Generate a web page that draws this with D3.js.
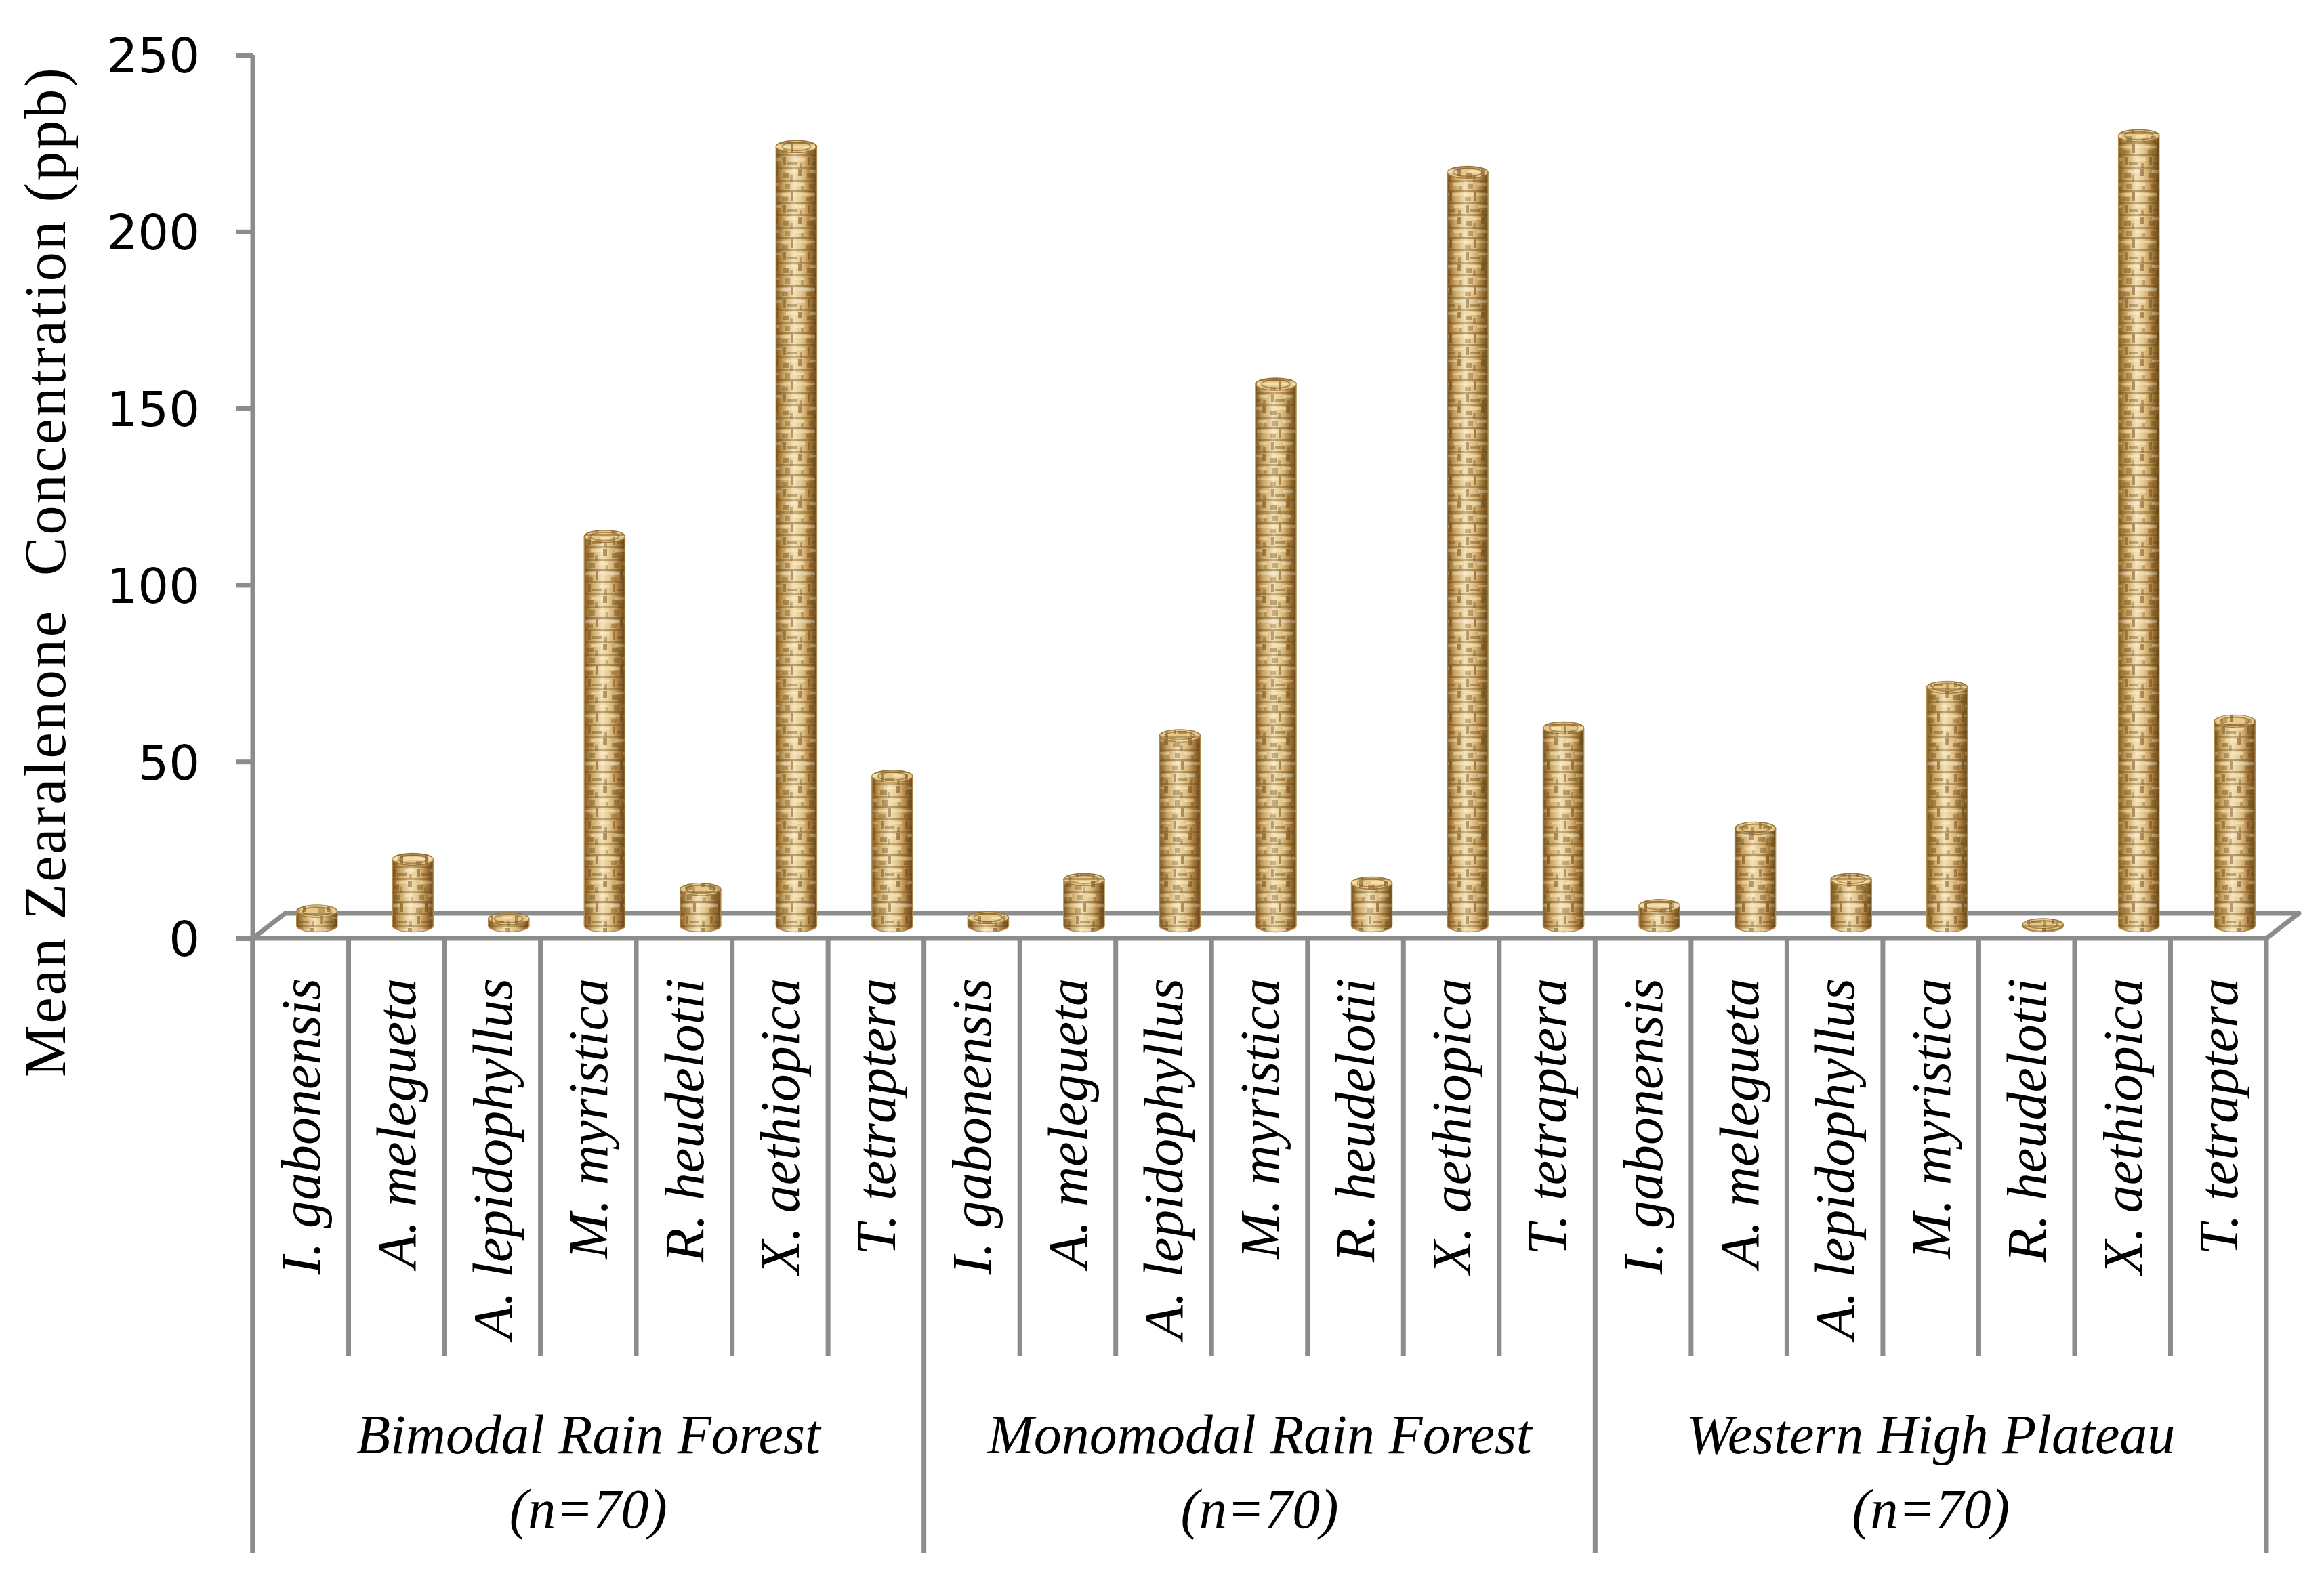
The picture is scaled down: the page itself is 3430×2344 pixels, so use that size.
<!DOCTYPE html>
<html lang="en">
<head>
    <meta charset="UTF-8">
    <title>Mean Zearalenone Concentration</title>
    <script src="https://d3js.org/d3.v7.min.js"></script>
    <style>
        body { margin: 0; background: #fff; }
        svg { display: block; }
    </style>
</head>
<body>
    <script>
        // species on the x axis (repeated for each region)
        var species = ["I. gabonensis", "A. melegueta", "A. lepidophyllus", "M. myristica",
                       "R. heudelotii", "X. aethiopica", "T. tetraptera"];
        var regions = ["Bimodal Rain Forest", "Monomodal Rain Forest", "Western High Plateau"];
        var regionN = "(n=70)";

        // mean ZEN (ppb)
        var bimodal   = [4.1, 18.8, 2.0, 110.2, 10.3, 220.5, 42.3];
        var monomodal = [2.3, 13.1, 53.8, 153.3, 12.1, 213.2, 56.0];
        var plateau   = [5.7, 27.6, 13.1, 67.5, 0.3, 223.6, 57.9];

        var yTicks = [0, 50, 100, 150, 200, 250];

        (function(){
            var W = 3430, H = 2344;
            var left = 373, right = 3345, floorY = 1385, topY = 81;
            var depthX = 48, depthY = -37;           // floor depth (oblique 3D)
            var catBottom = 2001, groupBottom = 2292;
            var grey = "#8c8c8c";

            var series = [bimodal, monomodal, plateau];
            var rows = [];
            regions.forEach(function(r, gi){
                species.forEach(function(s, si){
                    rows.push({ key: gi + "|" + s, region: r, name: s, value: series[gi][si], g: gi, i: si });
                });
            });

            var svg = d3.select("body").append("svg")
                .attr("width", W)
                .attr("height", H);

            var x = d3.scaleBand()
                .domain(rows.map(function(d){ return d.key; }))
                .range([left, right])
                .padding(0);

            var y = d3.scaleLinear()
                .domain([0, 250])
                .range([floorY, topY]);

            // ---- textures / shading for the cylinders
            var defs = svg.append("defs");

            var body = defs.append("linearGradient").attr("id", "cylBody")
                .attr("x1", "0%").attr("x2", "100%").attr("y1", "0%").attr("y2", "0%");
            [["0%", "#9c7433"], ["14%", "#cfa55e"], ["42%", "#f3ddaa"], ["60%", "#ecd199"],
             ["84%", "#c49550"], ["100%", "#8a6226"]].forEach(function(s){
                body.append("stop").attr("offset", s[0]).attr("stop-color", s[1]);
            });

            var shade = defs.append("linearGradient").attr("id", "cylShade")
                .attr("x1", "0%").attr("x2", "100%").attr("y1", "0%").attr("y2", "0%");
            [["0%", "#6b4a18", 0.55], ["20%", "#6b4a18", 0.1], ["45%", "#ffffff", 0.15],
             ["70%", "#6b4a18", 0.05], ["100%", "#5a3c10", 0.6]].forEach(function(s){
                shade.append("stop").attr("offset", s[0]).attr("stop-color", s[1]).attr("stop-opacity", s[2]);
            });

            // woven mat look (irregular dark blotches + light strands)
            var mat = defs.append("pattern").attr("id", "mat")
                .attr("patternUnits", "userSpaceOnUse")
                .attr("width", 36).attr("height", 70);
            var dark = "#6e4a17", light = "#fbeecb";
            [
                [0, 0, 36, 3, dark, 0.5],
                [0, 5, 15, 4, light, 0.65],
                [19, 5, 17, 4, light, 0.5],
                [15, 3, 4, 13, dark, 0.55],
                [2, 11, 9, 6, dark, 0.35],
                [0, 18, 36, 3, dark, 0.45],
                [4, 22, 4, 12, dark, 0.5],
                [22, 23, 14, 4, light, 0.6],
                [10, 29, 14, 4, dark, 0.45],
                [28, 30, 4, 8, dark, 0.4],
                [0, 36, 36, 3, dark, 0.4],
                [8, 41, 20, 4, light, 0.6],
                [26, 40, 6, 10, dark, 0.55],
                [3, 46, 10, 7, dark, 0.45],
                [14, 49, 4, 9, dark, 0.35],
                [0, 55, 36, 3, dark, 0.4],
                [20, 60, 14, 4, light, 0.55],
                [6, 61, 8, 8, dark, 0.4],
                [30, 64, 4, 6, dark, 0.3]
            ].forEach(function(r){
                mat.append("rect")
                    .attr("x", r[0]).attr("y", r[1]).attr("width", r[2]).attr("height", r[3])
                    .attr("fill", r[4]).attr("fill-opacity", r[5]);
            });

            // ---- floor
            var floor = svg.append("g")
                .attr("fill", "none")
                .attr("stroke", grey)
                .attr("stroke-width", 7)
                .attr("stroke-linejoin", "round");
            floor.append("polyline")
                .attr("points", [[left, floorY], [left + depthX, floorY + depthY],
                                 [right + depthX, floorY + depthY], [right, floorY]].join(" "));
            floor.append("line")
                .attr("x1", left - 25).attr("x2", right)
                .attr("y1", floorY).attr("y2", floorY);

            // ---- y axis
            var yAxis = d3.axisLeft(y)
                .tickValues(yTicks)
                .tickSize(25)
                .tickSizeOuter(0)
                .tickPadding(53);

            var ag = svg.append("g")
                .attr("transform", "translate(" + left + ",0)")
                .call(yAxis);
            ag.select(".domain").remove();
            ag.selectAll(".tick line").attr("stroke", grey).attr("stroke-width", 7);
            ag.selectAll(".tick text")
                .attr("fill", "#000")
                .style("font-family", "'DejaVu Sans', Verdana, sans-serif")
                .style("font-size", "72px")
                .attr("dy", "0.36em");

            svg.append("line")
                .attr("x1", left).attr("x2", left)
                .attr("y1", topY).attr("y2", groupBottom)
                .attr("stroke", grey).attr("stroke-width", 7);

            // y title
            svg.append("text")
                .attr("transform", "translate(96," + 845 + ") rotate(-90)")
                .attr("text-anchor", "middle")
                .attr("textLength", 1490)
                .attr("lengthAdjust", "spacing")
                .style("font-family", "'Liberation Serif', 'Times New Roman', serif")
                .style("font-size", "86px")
                .style("white-space", "pre")
                .text("Mean Zearalenone  Concentration (ppb)");

            // ---- category / group dividers
            var bounds = rows.map(function(d){ return x(d.key); }).concat([right]);
            svg.append("g").selectAll("line")
                .data(bounds)
                .enter()
                .append("line")
                .attr("x1", function(d){ return d; })
                .attr("x2", function(d){ return d; })
                .attr("y1", floorY)
                .attr("y2", function(d, i){ return i % 7 === 0 ? groupBottom : catBottom; })
                .attr("stroke", grey)
                .attr("stroke-width", 7);

            // ---- cylinders
            var bw = x.bandwidth();
            var rx = 30, ry = 9;
            var midX = depthX / 2, midY = depthY / 2;

            var bars = svg.append("g").selectAll("g")
                .data(rows)
                .enter()
                .append("g");

            function bodyPath(d){
                var cx = x(d.key) + bw / 2 + midX;
                var yb = y(0) + midY, yt = y(d.value) + midY;
                return "M" + (cx - rx) + "," + yt +
                       "L" + (cx - rx) + "," + yb +
                       "A" + rx + "," + ry + " 0 0 0 " + (cx + rx) + "," + yb +
                       "L" + (cx + rx) + "," + yt + "Z";
            }

            bars.append("path").attr("d", bodyPath).attr("fill", "url(#cylBody)");
            bars.append("path").attr("d", bodyPath).attr("fill", "url(#mat)");
            bars.append("path").attr("d", bodyPath).attr("fill", "url(#cylShade)")
                .attr("stroke", "#b08a4c").attr("stroke-width", 1.5);

            function cx(d){ return x(d.key) + bw / 2 + midX; }
            function cy(d){ return y(d.value) + midY; }

            bars.append("ellipse")
                .attr("cx", cx).attr("cy", cy)
                .attr("rx", rx).attr("ry", ry)
                .attr("fill", "#e6c88a")
                .attr("stroke", "#a07a3c").attr("stroke-width", 1.5);
            bars.append("ellipse")
                .attr("cx", cx).attr("cy", cy)
                .attr("rx", rx).attr("ry", ry)
                .attr("fill", "url(#mat)");
            bars.append("ellipse")
                .attr("cx", cx).attr("cy", cy)
                .attr("rx", rx - 9).attr("ry", ry - 3)
                .attr("fill", "none")
                .attr("stroke", "#7a5520").attr("stroke-opacity", 0.55).attr("stroke-width", 2);

            // ---- category labels (rotated, italic)
            svg.append("g").selectAll("text")
                .data(rows)
                .enter()
                .append("text")
                .attr("transform", function(d){
                    return "translate(" + (x(d.key) + bw / 2) + ",1444) rotate(-90)";
                })
                .attr("text-anchor", "end")
                .attr("dy", "0.34em")
                .style("font-family", "'Liberation Serif', 'Times New Roman', serif")
                .style("font-style", "italic")
                .style("font-size", "82px")
                .text(function(d){ return d.name; });

            // ---- region labels
            var groups = svg.append("g").selectAll("g")
                .data(regions)
                .enter()
                .append("g")
                .style("font-family", "'Liberation Serif', 'Times New Roman', serif")
                .style("font-style", "italic")
                .style("font-size", "82px")
                .attr("text-anchor", "middle");

            function groupMid(gi){
                return (bounds[gi * 7] + bounds[gi * 7 + 7]) / 2;
            }
            groups.append("text")
                .attr("x", function(d, i){ return groupMid(i); })
                .attr("y", 2145)
                .text(function(d){ return d; });
            groups.append("text")
                .attr("x", function(d, i){ return groupMid(i); })
                .attr("y", 2255)
                .text(regionN);
        })();
    </script>
</body>
</html>
